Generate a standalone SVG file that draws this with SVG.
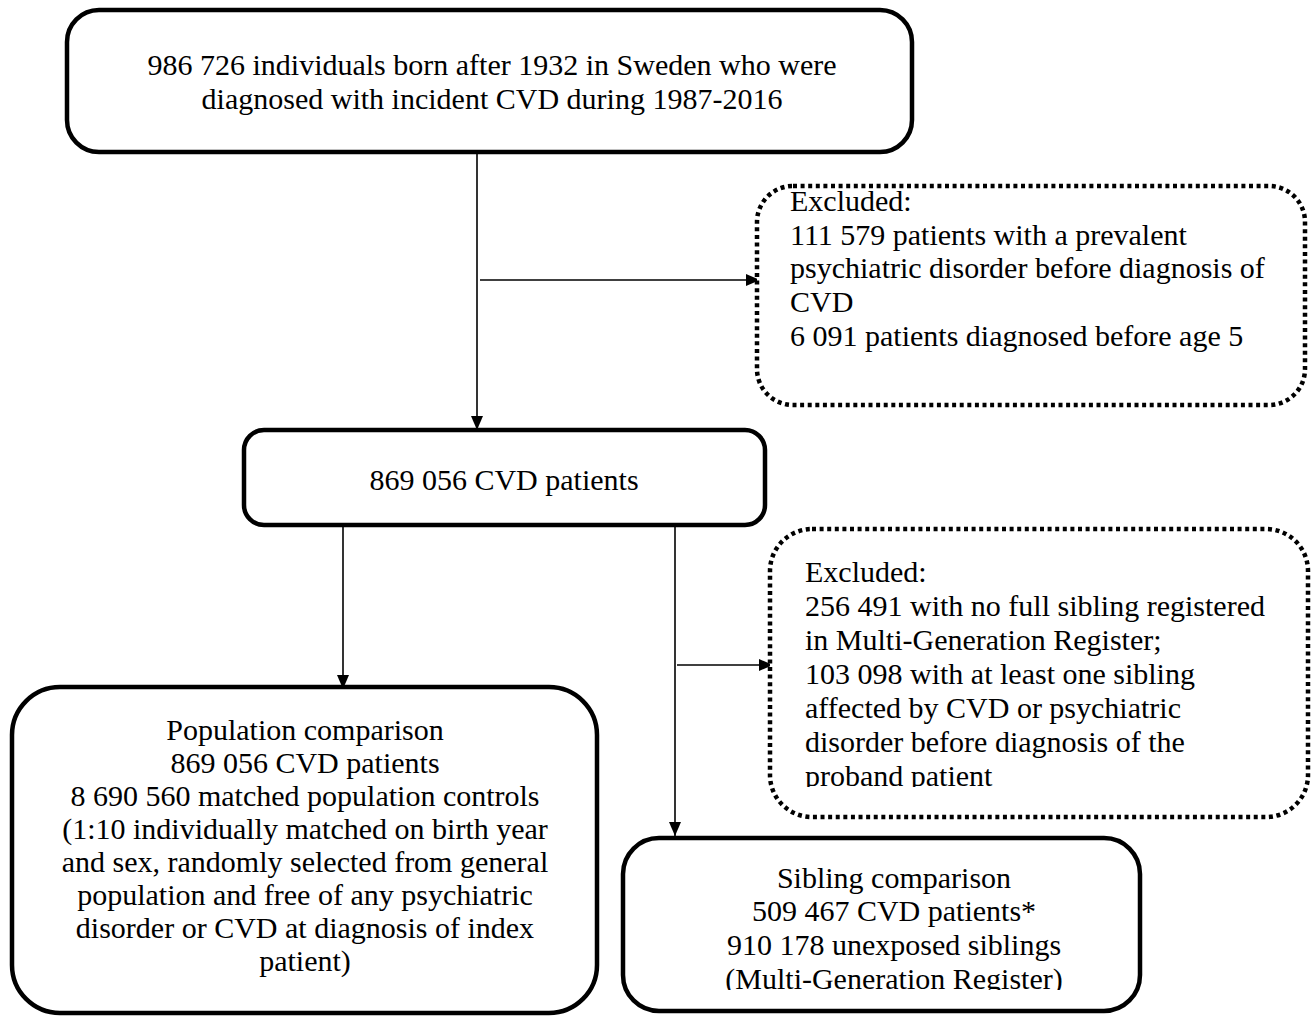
<svg xmlns="http://www.w3.org/2000/svg" width="1315" height="1017" viewBox="0 0 1315 1017">
<style>
.box{fill:#fff;stroke:#000;stroke-width:4.5}
.dot{fill:#fff;stroke:#000;stroke-width:4.5;stroke-dasharray:4 3.6}
.t{font-family:"Liberation Serif","Times New Roman",serif;font-size:30px;fill:#000}
.c{text-anchor:middle}
.conn{stroke:#000;stroke-width:1.6;fill:none;marker-end:url(#arr)}
</style>
<defs>
<marker id="arr" markerUnits="userSpaceOnUse" markerWidth="16" markerHeight="16" viewBox="0 0 16 16" refX="14" refY="8" orient="auto">
<path d="M0,2 L14,8 L0,14 Z" fill="#000"/>
</marker>
<clipPath id="clipEx2"><rect x="770" y="529" width="540" height="258"/></clipPath>
<clipPath id="clipSib"><rect x="623" y="838" width="520" height="152"/></clipPath>
</defs>
<rect width="1315" height="1017" fill="#fff"/>
<g id="connectors">
<line class="conn" x1="477" y1="152" x2="477" y2="430"/>
<line class="conn" x1="480" y1="280" x2="760" y2="280"/>
<line class="conn" x1="343" y1="525" x2="343" y2="689"/>
<line class="conn" x1="675" y1="525" x2="675" y2="836"/>
<line class="conn" x1="677" y1="665" x2="773" y2="665"/>
</g>
<g id="node-total">
<rect class="box" x="67" y="10" width="845" height="142" rx="32"/>
<text class="t c" x="492" y="75">986 726 individuals born after 1932 in Sweden who were</text>
<text class="t c" x="492" y="109">diagnosed with incident CVD during 1987-2016</text>
</g>
<g id="node-excluded1">
<rect class="dot" x="757" y="186" width="548" height="219" rx="36"/>
<text class="t" x="790" y="211">Excluded:</text>
<text class="t" x="790" y="245">111 579 patients with a prevalent</text>
<text class="t" x="790" y="278">psychiatric disorder before diagnosis of</text>
<text class="t" x="790" y="312">CVD</text>
<text class="t" x="790" y="346">6 091 patients diagnosed before age 5</text>
</g>
<g id="node-cvd">
<rect class="box" x="244" y="430" width="521" height="95" rx="20"/>
<text class="t c" x="504" y="490">869 056 CVD patients</text>
</g>
<g id="node-excluded2">
<rect class="dot" x="770" y="529" width="538" height="288" rx="42"/>
<g clip-path="url(#clipEx2)">
<text class="t" x="805" y="582">Excluded:</text>
<text class="t" x="805" y="616">256 491 with no full sibling registered</text>
<text class="t" x="805" y="650">in Multi-Generation Register;</text>
<text class="t" x="805" y="684">103 098 with at least one sibling</text>
<text class="t" x="805" y="718">affected by CVD or psychiatric</text>
<text class="t" x="805" y="752">disorder before diagnosis of the</text>
<text class="t" x="805" y="786">proband patient</text>
</g>
</g>
<g id="node-population">
<rect class="box" x="12" y="687" width="585" height="326" rx="48"/>
<text class="t c" x="305" y="740">Population comparison</text>
<text class="t c" x="305" y="773">869 056 CVD patients</text>
<text class="t c" x="305" y="806">8 690 560 matched population controls</text>
<text class="t c" x="305" y="839">(1:10 individually matched on birth year</text>
<text class="t c" x="305" y="872">and sex, randomly selected from general</text>
<text class="t c" x="305" y="905">population and free of any psychiatric</text>
<text class="t c" x="305" y="938">disorder or CVD at diagnosis of index</text>
<text class="t c" x="305" y="971">patient)</text>
</g>
<g id="node-sibling">
<rect class="box" x="623" y="838" width="517" height="173" rx="36"/>
<g clip-path="url(#clipSib)">
<text class="t c" x="894" y="888">Sibling comparison</text>
<text class="t c" x="894" y="921">509 467 CVD patients*</text>
<text class="t c" x="894" y="955">910 178 unexposed siblings</text>
<text class="t c" x="894" y="989">(Multi-Generation Register)</text>
</g>
</g>
</svg>
